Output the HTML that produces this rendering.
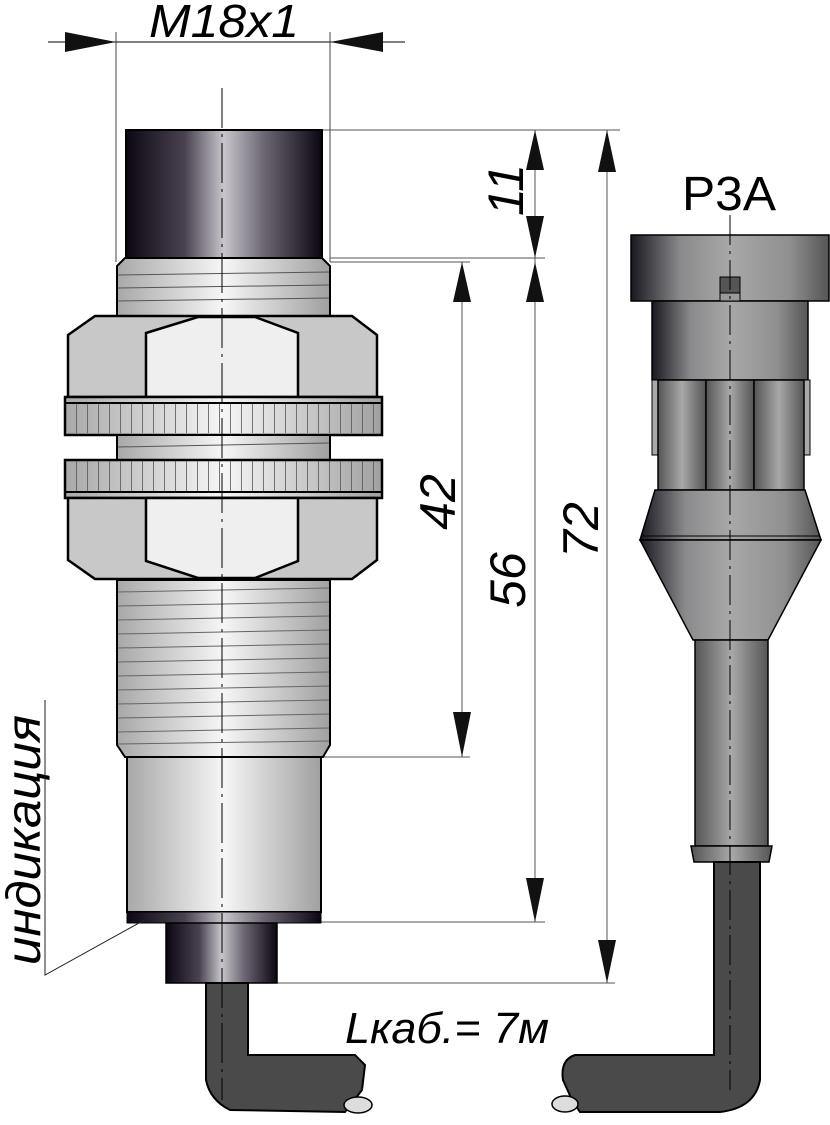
<!DOCTYPE html>
<html><head><meta charset="utf-8"><style>
html,body{margin:0;padding:0;background:#fff;}
svg{display:block;}
text{font-family:"Liberation Sans",sans-serif;}
</style></head><body>
<svg width="830" height="1125" viewBox="0 0 830 1125" xmlns="http://www.w3.org/2000/svg">
<defs>
<linearGradient id="dark" x1="0" x2="1" y1="0" y2="0">
<stop offset="0" stop-color="#0c0612"/><stop offset="0.3" stop-color="#4a4250"/><stop offset="0.5" stop-color="#c8c6cc"/><stop offset="0.7" stop-color="#6e6874"/><stop offset="1" stop-color="#0c0612"/></linearGradient>
<linearGradient id="metal" x1="0" x2="1" y1="0" y2="0">
<stop offset="0" stop-color="#a8a8a8"/><stop offset="0.5" stop-color="#f6f6f6"/><stop offset="1" stop-color="#a0a0a0"/></linearGradient>
<linearGradient id="grey" x1="0" x2="1" y1="0" y2="0">
<stop offset="0" stop-color="#1a1820"/><stop offset="0.25" stop-color="#8a8a8c"/><stop offset="0.5" stop-color="#a8a8a8"/><stop offset="0.8" stop-color="#909090"/><stop offset="1" stop-color="#555"/></linearGradient>
<linearGradient id="cyl" x1="0" x2="1" y1="0" y2="0">
<stop offset="0" stop-color="#555"/><stop offset="0.5" stop-color="#a8a8a8"/><stop offset="1" stop-color="#555"/></linearGradient>
<pattern id="knurl" width="11" height="40" patternUnits="userSpaceOnUse" x="65"><line x1="0.5" y1="0" x2="0.5" y2="40" stroke="#555" stroke-width="0.8"/></pattern>
</defs>

<!-- top dim -->
<line x1="48" y1="42" x2="405" y2="42" stroke="#000" stroke-width="1"/>
<line x1="116" y1="32" x2="116" y2="262" stroke="#444" stroke-width="1"/>
<line x1="330" y1="32" x2="330" y2="262" stroke="#444" stroke-width="1"/>
<polygon points="65,32 116,42 65,52" fill="#111"/>
<polygon points="383,32 330,42 383,52" fill="#111"/>
<text x="224" y="37" font-size="46" font-style="italic" text-anchor="middle" textLength="150" lengthAdjust="spacingAndGlyphs">M18x1</text>

<!-- extension lines -->
<g stroke="#555" stroke-width="1">
<line x1="322" y1="130" x2="620" y2="130"/>
<line x1="330" y1="258" x2="545" y2="258"/>
<line x1="330" y1="262" x2="470" y2="262"/>
<line x1="321" y1="757" x2="470" y2="757"/>
<line x1="321" y1="922" x2="545" y2="922"/>
<line x1="277" y1="983" x2="615" y2="983"/>
<line x1="462" y1="262" x2="462" y2="757"/>
<line x1="535" y1="130" x2="535" y2="922"/>
<line x1="607" y1="130" x2="607" y2="983"/>
</g>
<g fill="#111">
<polygon points="535,130 526,170 544,170"/><polygon points="535,258 526,216 544,216"/>
<polygon points="462,262 453,302 471,302"/><polygon points="462,757 453,712 471,712"/>
<polygon points="535,262 526,302 544,302"/><polygon points="535,922 526,878 544,878"/>
<polygon points="607,130 598,172 616,172"/><polygon points="607,983 598,940 616,940"/>
</g>
<g font-size="50" font-style="italic" text-anchor="middle">
<text transform="translate(523,190) rotate(-90)">11</text>
<text transform="translate(455,502) rotate(-90)">42</text>
<text transform="translate(525,580) rotate(-90)">56</text>
<text transform="translate(598,530) rotate(-90)">72</text>
</g>

<!-- sensor -->
<rect x="126" y="130" width="196" height="128" fill="url(#dark)" stroke="#000" stroke-width="2"/>
<polygon points="125,258 322,258 330,266 330,318 117,318 117,266" fill="url(#metal)" stroke="#000" stroke-width="2"/>
<g stroke="#555" stroke-width="1"><line x1="118" y1="275" x2="329" y2="272"/><line x1="118" y1="288" x2="329" y2="285"/><line x1="118" y1="301" x2="329" y2="298"/></g>
<polygon points="95,316 352,316 377,335 377,397 68,397 68,335" fill="#c8c8c8" stroke="#000" stroke-width="2.5"/>
<polygon points="146,333 198,317 255,317 298,333 298,397 146,397" fill="#efefef" stroke="#000" stroke-width="2.5"/>
<rect x="65" y="397" width="317" height="38" fill="url(#metal)" stroke="#000" stroke-width="2.5"/>
<rect x="66" y="403" width="315" height="30" fill="url(#knurl)"/>
<line x1="65" y1="403" x2="382" y2="403" stroke="#000" stroke-width="2"/>
<rect x="117" y="435" width="213" height="25" fill="url(#metal)" stroke="#000" stroke-width="2"/>
<line x1="118" y1="447" x2="329" y2="443" stroke="#555"/>
<rect x="65" y="460" width="317" height="38" fill="url(#metal)" stroke="#000" stroke-width="2.5"/>
<rect x="66" y="461" width="315" height="30" fill="url(#knurl)"/>
<line x1="65" y1="492" x2="382" y2="492" stroke="#000" stroke-width="2"/>
<polygon points="68,498 377,498 377,560 352,579 95,579 68,560" fill="#c8c8c8" stroke="#000" stroke-width="2.5"/>
<polygon points="146,498 298,498 298,561 255,578 198,578 146,561" fill="#efefef" stroke="#000" stroke-width="2.5"/>
<polygon points="117,580 330,580 330,745 323,757 125,757 117,745" fill="url(#metal)" stroke="#000" stroke-width="2"/>
<g stroke="#666" stroke-width="1">
<line x1="118" y1="592" x2="329" y2="588"/><line x1="118" y1="606" x2="329" y2="602"/><line x1="118" y1="620" x2="329" y2="616"/><line x1="118" y1="634" x2="329" y2="630"/><line x1="118" y1="648" x2="329" y2="644"/><line x1="118" y1="662" x2="329" y2="658"/><line x1="118" y1="676" x2="329" y2="672"/><line x1="118" y1="690" x2="329" y2="686"/><line x1="118" y1="704" x2="329" y2="700"/><line x1="118" y1="718" x2="329" y2="714"/><line x1="118" y1="732" x2="329" y2="728"/><line x1="118" y1="744" x2="329" y2="741"/>
</g>
<rect x="127" y="757" width="194" height="155" fill="url(#metal)" stroke="#000" stroke-width="2"/>
<rect x="127" y="912" width="194" height="11" fill="url(#dark)" stroke="#000" stroke-width="1"/>
<rect x="166" y="923" width="111" height="60" fill="url(#dark)" stroke="#000" stroke-width="1.5"/>
<path d="M206,983 L206,1080 Q210,1100 230,1110 L345,1112 L362,1090 L365,1065 L355,1055 L248,1055 L248,983 Z" fill="#4a4a4a" stroke="#000" stroke-width="2"/>
<ellipse cx="358" cy="1105" rx="14" ry="8" fill="#ddd" stroke="#000" stroke-width="1.5"/>
<line x1="222" y1="88" x2="222" y2="1100" stroke="#000" stroke-width="1" stroke-dasharray="40,6,3,6"/>

<text transform="translate(40,840) rotate(-90)" font-size="48" font-style="italic" text-anchor="middle" textLength="250" lengthAdjust="spacingAndGlyphs">индикация</text>
<polyline points="45,700 45,975 148,918" fill="none" stroke="#222" stroke-width="1"/>
<text x="345" y="1043" font-size="44" font-style="italic" textLength="204" lengthAdjust="spacingAndGlyphs">Lкаб.= 7м</text>

<!-- connector -->
<text x="729" y="210" font-size="48" text-anchor="middle" textLength="94" lengthAdjust="spacingAndGlyphs">P3A</text>
<rect x="631" y="235" width="198" height="66" fill="url(#grey)" stroke="#000" stroke-width="1.5"/>
<rect x="652" y="301" width="156" height="79" fill="url(#grey)" stroke="#000" stroke-width="1.5"/>
<rect x="720" y="277" width="20" height="16" fill="#555" stroke="#000"/>
<rect x="720" y="293" width="20" height="8" fill="#999" stroke="#000"/>
<rect x="652" y="380" width="8" height="75" fill="#aaa" stroke="#000"/>
<rect x="802" y="380" width="8" height="75" fill="#aaa" stroke="#000"/>
<rect x="658" y="380" width="48" height="110" fill="url(#cyl)" stroke="#000" stroke-width="1.5"/>
<rect x="706" y="380" width="48" height="110" fill="url(#cyl)" stroke="#000" stroke-width="1.5"/>
<rect x="754" y="380" width="50" height="110" fill="url(#cyl)" stroke="#000" stroke-width="1.5"/>
<polygon points="655,490 805,490 821,540 640,540" fill="url(#grey)" stroke="#000" stroke-width="1.5"/>
<polygon points="640,540 821,540 768,640 693,640" fill="url(#grey)" stroke="#000" stroke-width="1.5"/>
<line x1="642" y1="536" x2="819" y2="536" stroke="#000"/>
<rect x="695" y="640" width="73" height="206" fill="url(#cyl)" stroke="#000" stroke-width="1.5"/>
<polygon points="691,846 772,846 769,862 694,862" fill="url(#cyl)" stroke="#000" stroke-width="1.5"/>
<path d="M714,862 L714,1055 L575,1055 Q560,1060 563,1080 L572,1100 L580,1112 L720,1112 Q755,1108 760,1080 L760,862 Z" fill="#4a4a4a" stroke="#000" stroke-width="2"/>
<ellipse cx="565" cy="1104" rx="13" ry="8" fill="#ddd" stroke="#000" stroke-width="1.5"/>
<line x1="730" y1="215" x2="730" y2="1090" stroke="#000" stroke-width="1" stroke-dasharray="30,6,3,6"/>
</svg>
</body></html>
